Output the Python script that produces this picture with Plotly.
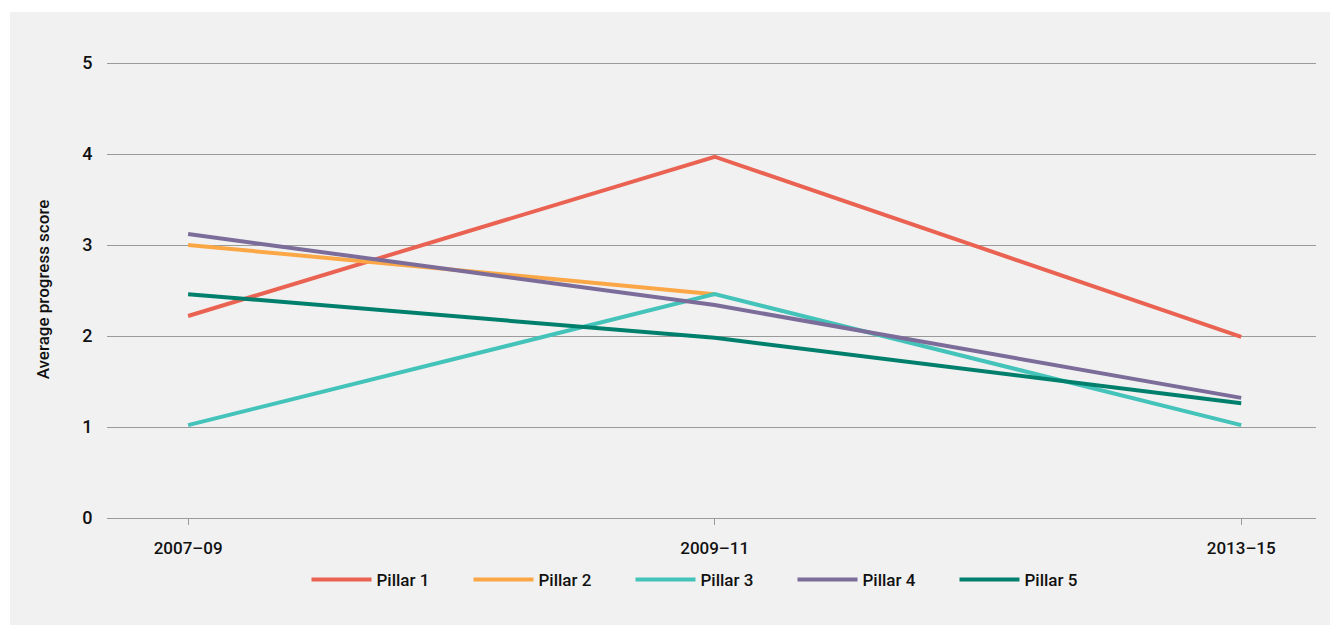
import plotly.graph_objects as go

# Survey periods and average progress scores per pillar
periods = ["2007–09", "2009–11", "2013–15"]
pillar_1 = [2.22, 3.97, 1.99]
pillar_2 = [3.00, 2.46, None]
pillar_3 = [1.02, 2.46, 1.02]
pillar_4 = [3.12, 2.34, 1.32]
pillar_5 = [2.46, 1.98, 1.26]

series = [
    ("Pillar 1", pillar_1, "#ea6352"),
    ("Pillar 2", pillar_2, "#fba746"),
    ("Pillar 3", pillar_3, "#43c3b9"),
    ("Pillar 4", pillar_4, "#7b6c9a"),
    ("Pillar 5", pillar_5, "#00806c"),
]

FONT = "Roboto, Liberation Sans, sans-serif"
BG = "#f1f1f1"
TXT = "#111111"

fig = go.Figure()
for name, values, color in series:
    fig.add_trace(go.Scatter(
        x=periods, y=values, name=name, mode="lines",
        line=dict(color=color, width=4),
        connectgaps=False,
    ))

W, H = 1330, 625
ml, mr, mt, mb = 107, 14, 61, 107
pw, ph = W - ml - mr, H - mt - mb
y_top = ph / 91.0  # 91 px per score unit, leaves room for the top gridline

fig.update_layout(
    width=W, height=H,
    margin=dict(l=ml, r=mr, t=mt, b=mb),
    paper_bgcolor=BG, plot_bgcolor=BG,
    font=dict(family=FONT, size=17, color=TXT),
    showlegend=True,
    legend=dict(
        orientation="h", x=0.5, xanchor="center", y=-62 / ph, yanchor="middle",
        font=dict(family=FONT, size=17, color=TXT, weight=500),
        bgcolor="rgba(0,0,0,0)", entrywidth=87, entrywidthmode="pixels",
        itemwidth=60,
    ),
    xaxis=dict(
        type="category", range=[-0.154, 2.142],
        showgrid=False, zeroline=False, showline=False,
        ticks="outside", ticklen=6, tickcolor="#9a9a9a", tickwidth=1,
        ticklabelstandoff=9,
        tickfont=dict(family=FONT, size=17, color=TXT, weight=500),
    ),
    yaxis=dict(
        range=[0, y_top], dtick=1, tick0=0,
        showgrid=True, gridcolor="#9a9a9a", gridwidth=1,
        zeroline=True, zerolinecolor="#9a9a9a", zerolinewidth=1,
        showline=False,
        ticks="outside", ticklen=10, tickcolor="rgba(0,0,0,0)",
        tickfont=dict(family=FONT, size=18, color=TXT, weight=500),
        title=dict(text="Average progress score", standoff=28,
                   font=dict(family=FONT, size=17, color=TXT, weight=500)),
    ),
)

# white frame strips along the top and left edges of the page
fig.add_shape(type="rect", xref="paper", yref="paper", layer="below",
              x0=-ml / pw, x1=(W - ml) / pw,
              y0=(ph + mt - 12) / ph, y1=(ph + mt) / ph,
              fillcolor="white", line=dict(width=0))
fig.add_shape(type="rect", xref="paper", yref="paper", layer="below",
              x0=-ml / pw, x1=(10 - ml) / pw,
              y0=-mb / ph, y1=(ph + mt) / ph,
              fillcolor="white", line=dict(width=0))

fig.write_html("out.html")
